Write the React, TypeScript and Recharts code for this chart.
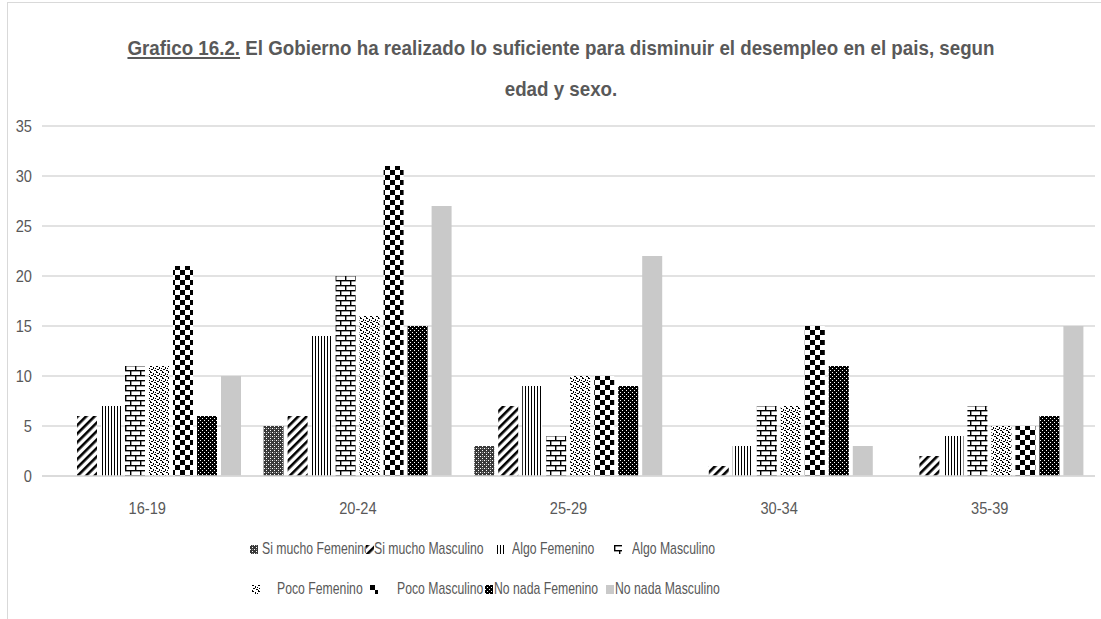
import React from "react";
import { BarChart, Bar, XAxis, YAxis, CartesianGrid, Legend } from "recharts";

const categories = ["16-19", "20-24", "25-29", "30-34", "35-39"];
const seriesNames = [
  "Si mucho Femenino",
  "Si mucho Masculino",
  "Algo Femenino",
  "Algo Masculino",
  "Poco Femenino",
  "Poco Masculino",
  "No nada Femenino",
  "No nada Masculino",
];
const siMuchoFemenino = [0, 5, 3, 0, 0];
const siMuchoMasculino = [6, 6, 7, 1, 2];
const algoFemenino = [7, 14, 9, 3, 4];
const algoMasculino = [11, 20, 4, 7, 7];
const pocoFemenino = [11, 16, 10, 7, 5];
const pocoMasculino = [21, 31, 10, 15, 5];
const noNadaFemenino = [6, 15, 9, 11, 6];
const noNadaMasculino = [10, 27, 22, 3, 15];
const yTicks = [0, 5, 10, 15, 20, 25, 30, 35];

const seriesValues = [
  siMuchoFemenino,
  siMuchoMasculino,
  algoFemenino,
  algoMasculino,
  pocoFemenino,
  pocoMasculino,
  noNadaFemenino,
  noNadaMasculino,
];
const keys = seriesNames.map((_, i) => "s" + i);
const fills = [
  "url(#pat0)",
  "url(#pat1)",
  "url(#pat2)",
  "url(#pat3)",
  "url(#pat4)",
  "url(#pat5)",
  "url(#pat6)",
  "#c9c9c9",
];

const data = categories.map((c, ci) => {
  const row: Record<string, any> = { cat: c };
  seriesValues.forEach((arr, si) => {
    row[keys[si]] = arr[ci];
  });
  return row;
});

const FONT = "'Liberation Sans', Arial, sans-serif";
const TEXT = "#595959";

const Patterns = () => (
  <defs>
    <pattern id="pat0" width="4" height="4" patternUnits="userSpaceOnUse">
      <rect width="4" height="4" fill="#3a3a3a" />
      <rect x="0" y="0" width="1" height="1" fill="#fff" />
      <rect x="2" y="2" width="1" height="1" fill="#fff" />
      <rect x="2" y="0" width="1" height="1" fill="#999" />
    </pattern>
    <pattern id="pat1" width="6" height="6" patternUnits="userSpaceOnUse" patternTransform="rotate(45)">
      <rect width="6" height="6" fill="#fff" />
      <rect x="0" y="0" width="2.6" height="6" fill="#000" />
    </pattern>
    <pattern id="pat2" width="3" height="3" patternUnits="userSpaceOnUse">
      <rect width="3" height="3" fill="#fff" />
      <rect x="0" y="0" width="1" height="3" fill="#000" />
    </pattern>
    <pattern id="pat3" width="10" height="10" patternUnits="userSpaceOnUse">
      <rect width="10" height="10" fill="#fff" />
      <rect x="0" y="0" width="10" height="1.4" fill="#000" />
      <rect x="0" y="5" width="10" height="1.4" fill="#000" />
      <rect x="0" y="0" width="1.4" height="5" fill="#000" />
      <rect x="5" y="5" width="1.4" height="5" fill="#000" />
    </pattern>
    <pattern id="pat4" width="6" height="6" patternUnits="userSpaceOnUse">
      <rect width="6" height="6" fill="#fff" />
      <rect x="0" y="0" width="2" height="1" fill="#000" />
      <rect x="3" y="1" width="1" height="2" fill="#000" />
      <rect x="1" y="3" width="2" height="1" fill="#000" />
      <rect x="4" y="4" width="2" height="1" fill="#000" />
      <rect x="0" y="5" width="1" height="1" fill="#000" />
      <rect x="5" y="2" width="1" height="1" fill="#000" />
    </pattern>
    <pattern id="pat5" width="10" height="10" patternUnits="userSpaceOnUse">
      <rect width="10" height="10" fill="#fff" />
      <rect x="0" y="0" width="5" height="5" fill="#000" />
      <rect x="5" y="5" width="5" height="5" fill="#000" />
    </pattern>
    <pattern id="pat6" width="4" height="4" patternUnits="userSpaceOnUse">
      <rect width="4" height="4" fill="#000" />
      <rect x="0" y="0" width="1" height="1" fill="#fff" />
      <rect x="2" y="2" width="1" height="1" fill="#fff" />
    </pattern>
  </defs>
);

const TICK_SCALE = 0.86;

const NarrowTick = (props: any) => {
  const { x, y, payload, textAnchor, dy } = props;
  return (
    <g transform={`translate(${x},${y}) scale(${TICK_SCALE},1)`}>
      <text
        x={0}
        y={0}
        dy={dy}
        textAnchor={textAnchor}
        fill={TEXT}
        fontSize={17}
        fontFamily={FONT}
      >
        {payload.value}
      </text>
    </g>
  );
};

const XTick = (props: any) => <NarrowTick {...props} textAnchor="middle" dy="0.71em" />;
const YTick = (props: any) => <NarrowTick {...props} textAnchor="end" dy="0.355em" />;

// legend layout (icon left, text left) for each entry, in legend box coordinates
const legendLayout = [
  { icon: 250, text: 262, row: 0 },
  { icon: 366, text: 374, row: 0 },
  { icon: 497, text: 512, row: 0 },
  { icon: 614, text: 632, row: 0 },
  { icon: 252, text: 277, row: 1 },
  { icon: 370, text: 397, row: 1 },
  { icon: 485, text: 494, row: 1 },
  { icon: 606, text: 615, row: 1 },
];
const LEGEND_SCALE = 0.72;

const LegendContent = () => (
  <div style={{ fontFamily: FONT, fontSize: 17, color: TEXT, position: "relative", width: 1101, height: 70 }}>
    {legendLayout.map((l, si) => (
      <React.Fragment key={si}>
        <svg
          width="8"
          height="9"
          style={{ position: "absolute", left: l.icon, top: l.row * 40 + 4 }}
        >
          <rect width="8" height="9" fill={fills[si]} />
        </svg>
        <span
          style={{
            position: "absolute",
            left: l.text,
            top: l.row * 40 - 1,
            whiteSpace: "nowrap",
            lineHeight: "18px",
            transform: `scaleX(${LEGEND_SCALE})`,
            transformOrigin: "left center",
          }}
        >
          {seriesNames[si]}
        </span>
      </React.Fragment>
    ))}
  </div>
);

export default function App() {
  return (
    <div style={{ position: "fixed", left: 0, top: 0, width: 1101, height: 619, background: "#fff" }}>
      <div
        style={{
          position: "absolute",
          left: 7,
          top: 2,
          width: 1120,
          height: 640,
          borderLeft: "1px solid #d9d9d9",
          borderTop: "1px solid #d9d9d9",
        }}
      />
      <div
        style={{
          position: "absolute",
          left: 0,
          width: 1122,
          top: 27,
          textAlign: "center",
          fontFamily: FONT,
          fontWeight: "bold",
          fontSize: 21,
          color: TEXT,
          lineHeight: "41px",
          transform: "scaleX(0.893)",
          transformOrigin: "561px 0",
        }}
      >
        <div>
          <span style={{ textDecoration: "underline" }}>Grafico 16.2.</span> El Gobierno ha realizado lo suficiente para
          disminuir el desempleo en el pais, segun
        </div>
        <div>edad y sexo.</div>
      </div>
      <BarChart
        width={1101}
        height={619}
        data={data}
        margin={{ top: 126, right: 6, bottom: 0, left: 0 }}
        barSize={20}
        barGap={4}
        style={{ position: "absolute", left: 0, top: 0 }}
      >
        <Patterns />
        <CartesianGrid vertical={false} stroke="#d9d9d9" strokeWidth={1.5} />
        <XAxis
          dataKey="cat"
          height={143}
          axisLine={{ stroke: "#d9d9d9", strokeWidth: 1.5 }}
          tickLine={false}
          tickSize={6}
          tickMargin={20}
          tick={<XTick />}
        />
        <YAxis
          width={42}
          domain={[0, 35]}
          ticks={yTicks}
          axisLine={false}
          tickLine={false}
          tickSize={6}
          tickMargin={4}
          tick={<YTick />}
        />
        {keys.map((k, i) => (
          <Bar key={k} dataKey={k} name={seriesNames[i]} fill={fills[i]} isAnimationActive={false} />
        ))}
        <Legend
          layout="vertical"
          align="center"
          verticalAlign="middle"
          content={() => <LegendContent />}
          wrapperStyle={{ position: "absolute", left: 0, top: 541, width: 1101, height: 70 }}
        />
      </BarChart>
    </div>
  );
}
